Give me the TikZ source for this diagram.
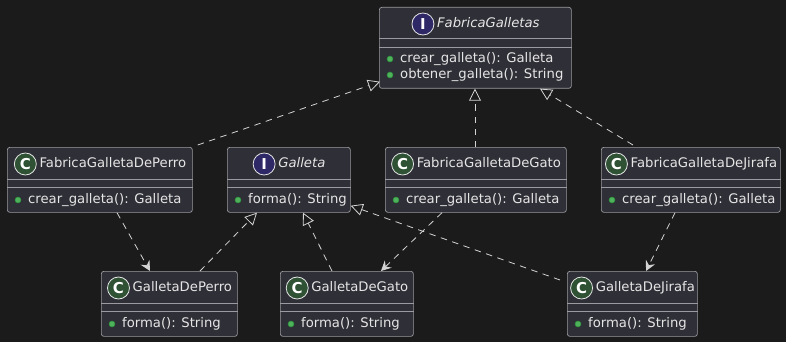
\documentclass[tikz,border=0pt]{standalone}
\usepackage{fontspec}
\setmainfont{DejaVu Sans}
\usetikzlibrary{arrows.meta,calc}

\definecolor{bg}{HTML}{1B1B1B}
\definecolor{boxfill}{HTML}{2F2F37}
\definecolor{boxline}{HTML}{9A9AA0}
\definecolor{txt}{HTML}{E6E6E6}
\definecolor{edge}{HTML}{D4D4D4}
\definecolor{ifill}{HTML}{2E2866}
\definecolor{cfill}{HTML}{2E5233}
\definecolor{dotfill}{HTML}{4DB25A}
\definecolor{dotline}{HTML}{2A8A3A}

\tikzset{
  umlbox/.style={draw=boxline, fill=boxfill, rounded corners=2.5pt, inner sep=0pt, line width=0.7pt},
  sepline/.style={draw=boxline, line width=0.7pt},
  titletext/.style={text=txt, inner sep=0pt, font=\fontsize{13.2}{15}\selectfont,
    text height=9.5pt, text depth=2.5pt},
  membertext/.style={text=txt, inner sep=0pt, anchor=west, font=\fontsize{13.2}{15}\selectfont,
    text height=9.5pt, text depth=2.5pt},
  icon/.style={circle, draw=txt, line width=0.8pt, minimum size=22pt, inner sep=0pt,
    text=white, font=\fontsize{15}{15}\selectfont\bfseries},
  iface/.style={icon, fill=ifill},
  klass/.style={icon, fill=cfill},
  pubdot/.style={circle, fill=dotfill, draw=dotline, line width=0.5pt, minimum size=6pt, inner sep=0pt},
  realize/.style={draw=edge, line width=0.8pt, dash pattern=on 6.5pt off 5.5pt,
    -{Triangle[open, length=12pt, width=12pt, line width=0.8pt]}},
  depend/.style={draw=edge, line width=0.8pt, dash pattern=on 6.5pt off 5.5pt,
    -{Stealth[length=10pt, width=10pt, inset=3.5pt]}}
}

% box: id, left, top, width, height, header separator offset
\newcommand\umlframe[6]{%
  \node[umlbox, anchor=north west, minimum width=#4pt, minimum height=#5pt] (#1) at (#2,#3) {};
  \draw[sepline] ([yshift=-#6pt]#1.north west) -- ([yshift=-#6pt]#1.north east);
  \draw[sepline] ([yshift=-40pt]#1.north west) -- ([yshift=-40pt]#1.north east);
}
% title: id, icon style, letter, name
\newcommand\umltitle[4]{%
  \node[titletext] (#1-t) at ([xshift=13pt,yshift=-17pt]#1.north) {#4};
  \node[#2] (#1-i) at ([xshift=-14pt]#1-t.west) {#3};
}
% member row: id, row key, vertical offset, text
\newcommand\umlmember[4]{%
  \node[pubdot] (#1-d#2) at ([xshift=11pt,yshift=-#3pt]#1.north west) {};
  \node[membertext] (#1-m#2) at ([xshift=21pt,yshift=-#3pt]#1.north west) {#4};
}

\begin{document}
\begin{tikzpicture}[x=1pt, y=-1pt]
  \fill[bg] (0,0) rectangle (786,342);
  \useasboundingbox (0,0) rectangle (786,342);

  % interface FabricaGalletas
  \umlframe{fg}{379}{7}{192}{81}{31}
  \umltitle{fg}{iface}{I}{\itshape FabricaGalletas}
  \umlmember{fg}{a}{52}{crear\_galleta(): Galleta}
  \umlmember{fg}{b}{68}{obtener\_galleta(): String}

  % factories
  \umlframe{fgp}{7}{147}{185}{65}{32}
  \umltitle{fgp}{klass}{C}{FabricaGalletaDePerro}
  \umlmember{fgp}{a}{53}{crear\_galleta(): Galleta}

  \umlframe{fgg}{385}{147}{181}{65}{32}
  \umltitle{fgg}{klass}{C}{FabricaGalletaDeGato}
  \umlmember{fgg}{a}{53}{crear\_galleta(): Galleta}

  \umlframe{fgj}{601}{147}{179}{65}{32}
  \umltitle{fgj}{klass}{C}{FabricaGalletaDeJirafa}
  \umlmember{fgj}{a}{53}{crear\_galleta(): Galleta}

  % interface Galleta
  \umlframe{ga}{227}{147}{123}{65}{32}
  \umltitle{ga}{iface}{I}{\itshape Galleta}
  \umlmember{ga}{a}{53}{forma(): String}

  % products
  \umlframe{gp}{101}{271}{136}{65}{32}
  \umltitle{gp}{klass}{C}{GalletaDePerro}
  \umlmember{gp}{a}{53}{forma(): String}

  \umlframe{gg}{280}{271}{133}{65}{32}
  \umltitle{gg}{klass}{C}{GalletaDeGato}
  \umlmember{gg}{a}{53}{forma(): String}

  \umlframe{gj}{567}{271}{130}{65}{32}
  \umltitle{gj}{klass}{C}{GalletaDeJirafa}
  \umlmember{gj}{a}{53}{forma(): String}

  % realizations of FabricaGalletas
  \draw[realize] ([xshift=5pt,yshift=2pt]fgp.north east) -- ([xshift=1pt,yshift=7pt]fg.south west);
  \draw[realize] ([xshift=90pt]fgg.north west) -- ([xshift=96pt]fg.south west);
  \draw[realize] ([xshift=32pt,yshift=2pt]fgj.north west) -- ([xshift=161pt]fg.south west);

  % realizations of Galleta
  \draw[realize] ([xshift=99pt]gp.north west) -- ([xshift=30pt]ga.south west);
  \draw[realize] ([xshift=52pt]gg.north west) -- ([xshift=76pt]ga.south west);
  \draw[realize] ([xshift=-7pt,yshift=-9pt]gj.north west) -- ([yshift=7pt]ga.south east);

  % factory dependencies
  \draw[depend] ([xshift=110pt]fgp.south west) -- ([xshift=49pt]gp.north west);
  \draw[depend] ([xshift=57pt]fgg.south west) -- ([xshift=101pt]gg.north west);
  \draw[depend] ([xshift=74pt]fgj.south west) -- ([xshift=79pt]gj.north west);
\end{tikzpicture}
\end{document}
